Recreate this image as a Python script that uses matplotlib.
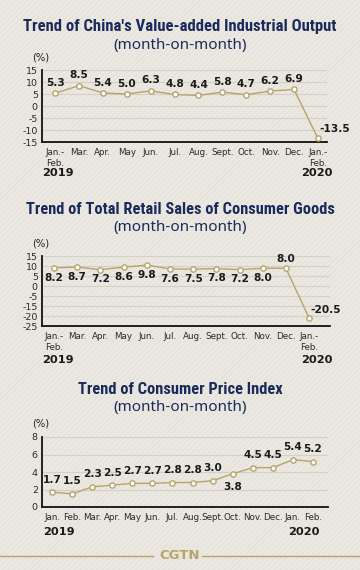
import matplotlib
matplotlib.use('Agg')
import matplotlib.pyplot as plt
from matplotlib import font_manager as fm
import numpy as np
from matplotlib.patches import Rectangle
from matplotlib.lines import Line2D

# ---------------- data ----------------
ind_labels = ['Jan.-\nFeb.', 'Mar.', 'Apr.', 'May', 'Jun.', 'Jul.', 'Aug.', 'Sept.',
              'Oct.', 'Nov.', 'Dec.', 'Jan.-\nFeb.']
ind_values = [5.3, 8.5, 5.4, 5.0, 6.3, 4.8, 4.4, 5.8, 4.7, 6.2, 6.9, -13.5]
ind_yticks = [15, 10, 5, 0, -5, -10, -15]

retail_labels = ['Jan.-\nFeb.', 'Mar.', 'Apr.', 'May', 'Jun.', 'Jul.', 'Aug.', 'Sept.',
                 'Oct.', 'Nov.', 'Dec.', 'Jan.-\nFeb.']
retail_values = [8.2, 8.7, 7.2, 8.6, 9.8, 7.6, 7.5, 7.8, 7.2, 8.0, 8.0, -20.5]
retail_ytick_labels = ['15', '10', '5', '0', '-5', '-15', '-20', '-25']

cpi_labels = ['Jan.', 'Feb.', 'Mar.', 'Apr.', 'May', 'Jun.', 'Jul.', 'Aug.', 'Sept.',
              'Oct.', 'Nov.', 'Dec.', 'Jan.', 'Feb.']
cpi_values = [1.7, 1.5, 2.3, 2.5, 2.7, 2.7, 2.8, 2.8, 3.0, 3.8, 4.5, 4.5, 5.4, 5.2]
cpi_yticks = [0, 2, 4, 6, 8]

titles = ["Trend of China's Value-added Industrial Output",
          "Trend of Total Retail Sales of Consumer Goods",
          "Trend of Consumer Price Index"]

# ---------------- style ----------------
BG = '#ebe8e2'
NAVY = '#1a2a5a'
GOLD = '#b5a56a'
GRID = '#d4d0c8'
TXT = '#1a1a1a'
W, H = 360, 570

names = {f.name for f in fm.fontManager.ttflist}
narrow = [n for n in ('Roboto Condensed', 'Liberation Sans Narrow', 'DejaVu Sans Condensed',
                      'Open Sans Condensed') if n in names]
TITLE_FONT = narrow + ['Liberation Sans', 'DejaVu Sans']

plt.rcParams['hatch.linewidth'] = 0.6
fig = plt.figure(figsize=(W / 100, H / 100), dpi=100, facecolor=BG)
fig.patches.append(Rectangle((0, 0), 1, 1, transform=fig.transFigure,
                             facecolor='none', edgecolor='#e3dfd8', hatch='//////',
                             lw=0, zorder=-10))


def fx(px):
    return px / W


def fy(py):
    return 1 - py / H


def make_axes(left, right, top, bottom):
    ax = fig.add_axes([fx(left), fy(bottom), fx(right - left), fy(top) - fy(bottom)])
    ax.set_facecolor('none')
    for s in ('top', 'right'):
        ax.spines[s].set_visible(False)
    for s in ('left', 'bottom'):
        ax.spines[s].set_color('#111111')
        ax.spines[s].set_linewidth(1.3)
    ax.tick_params(length=0, labelsize=6.8, colors='#2a2a2a', pad=3)
    ax.tick_params(axis='x', labelsize=6.3, pad=4)
    ax.grid(axis='y', color=GRID, lw=0.8)
    ax.set_axisbelow(True)
    return ax


def draw_line(ax, vals):
    x = np.arange(len(vals))
    ax.plot(x, vals, color=GOLD, lw=1.0, marker='o', ms=3.8,
            mfc='white', mec=GOLD, mew=1.0, zorder=3)
    return x


def header(title, y_title, y_sub, y_pct, target_w):
    t = fig.text(0.5, fy(y_title), title, ha='center', va='center', color=NAVY,
                 fontsize=13, fontweight='heavy', family=TITLE_FONT)
    # shrink the title so that its width matches the reference
    r = fig.canvas.get_renderer()
    w = t.get_window_extent(r).width
    if w > target_w:
        t.set_fontsize(13 * target_w / w)
    fig.text(0.5, fy(y_sub), '(month-on-month)', ha='center', va='center',
             color=NAVY, fontsize=11, family=['Noto Sans', 'DejaVu Sans'])
    fig.text(fx(41), fy(y_pct), '(%)', ha='center', va='center', color='#222222',
             fontsize=7.2)


LBL = dict(fontsize=7.6, fontweight='bold', color=TXT)

# ---------- chart 1 ----------
header(titles[0], 26, 45, 58, 312)
ax1 = make_axes(42, 327, 70, 142)
x1 = draw_line(ax1, ind_values)
ax1.set_ylim(-15, 15)
ax1.set_yticks(ind_yticks)
ax1.set_yticklabels([str(t) for t in ind_yticks])
ax1.set_xlim(-0.55, 11.38)
ax1.set_xticks(x1)
ax1.set_xticklabels(ind_labels, linespacing=1.3)
for i, v in enumerate(ind_values):
    if i == len(ind_values) - 1:
        ax1.annotate(f'{v:.1f}', (i, v), xytext=(1, 7), textcoords='offset points',
                     ha='left', va='center', **LBL)
    else:
        ax1.annotate(f'{v:.1f}', (i, v), xytext=(0, 7.5), textcoords='offset points',
                     ha='center', va='center', **LBL)
fig.text(fx(42), fy(173), '2019', ha='left', va='center', fontsize=8.2,
         fontweight='bold', color=TXT)
fig.text(fx(333), fy(173), '2020', ha='right', va='center', fontsize=8.2,
         fontweight='bold', color=TXT)

# ---------- chart 2 ----------
header(titles[1], 210, 228, 243, 307)
ax2 = make_axes(42, 330, 256, 326)
x2 = draw_line(ax2, retail_values)
ax2.set_ylim(-25, 15)
ax2.set_yticks(np.linspace(15, -25, len(retail_ytick_labels)))
ax2.set_yticklabels(retail_ytick_labels)
ax2.set_xlim(-0.52, 11.9)
ax2.set_xticks(x2)
ax2.set_xticklabels(retail_labels, linespacing=1.3)
for i, v in enumerate(retail_values):
    if i == len(retail_values) - 1:
        ax2.annotate(f'{v:.1f}', (i, v), xytext=(1, 6), textcoords='offset points',
                     ha='left', va='center', **LBL)
    elif i == len(retail_values) - 2:
        ax2.annotate(f'{v:.1f}', (i, v), xytext=(0, 7), textcoords='offset points',
                     ha='center', va='center', **LBL)
    else:
        ax2.annotate(f'{v:.1f}', (i, v), xytext=(0, -7), textcoords='offset points',
                     ha='center', va='center', **LBL)
fig.text(fx(42), fy(360), '2019', ha='left', va='center', fontsize=8.2,
         fontweight='bold', color=TXT)
fig.text(fx(333), fy(360), '2020', ha='right', va='center', fontsize=8.2,
         fontweight='bold', color=TXT)

# ---------- chart 3 ----------
header(titles[2], 390, 408, 424, 205)
ax3 = make_axes(42, 328, 437, 507)
x3 = draw_line(ax3, cpi_values)
ax3.set_ylim(0, 8)
ax3.set_yticks(cpi_yticks)
ax3.set_yticklabels([str(t) for t in cpi_yticks])
ax3.set_xlim(-0.5, 13.75)
ax3.set_xticks(x3)
ax3.set_xticklabels(cpi_labels)
for i, v in enumerate(cpi_values):
    dy = -9.5 if i == 9 else 9
    ax3.annotate(f'{v:.1f}', (i, v), xytext=(0, dy), textcoords='offset points',
                 ha='center', va='center', **LBL)
fig.text(fx(43), fy(532), '2019', ha='left', va='center', fontsize=8.2,
         fontweight='bold', color=TXT)
fig.text(fx(320), fy(532), '2020', ha='right', va='center', fontsize=8.2,
         fontweight='bold', color=TXT)

# ---------- footer ----------
fig.lines.append(Line2D([0, fx(153)], [fy(555.5)] * 2, transform=fig.transFigure,
                        color=GOLD, lw=1.0))
fig.lines.append(Line2D([fx(202), 1], [fy(555.5)] * 2, transform=fig.transFigure,
                        color=GOLD, lw=1.0))
fig.text(0.5, fy(555.5), 'CGTN', ha='center', va='center', color=GOLD,
         fontsize=9.5, fontweight='bold')

fig.savefig('out.png', dpi=100, facecolor=BG)
